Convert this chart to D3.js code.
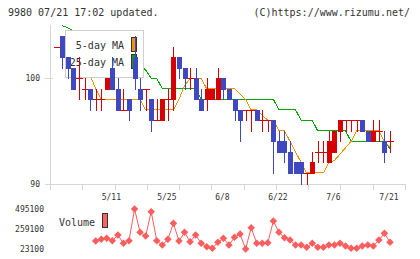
<!DOCTYPE html>
<html>
<head>
<meta charset="utf-8">
<script src="https://cdn.jsdelivr.net/npm/d3@7"></script>
<style>
body { margin: 0; background: #fff; }
svg { display: block; font-family: "DejaVu Sans Mono", monospace; }
</style>
</head>
<body>
<svg class="canvas"></svg>
<script>
// trading days 2015/4/21 - 7/21
const dates = [
	"4/21", "4/22", "4/23", "4/24", "4/27", "4/28", "4/30", "5/1", "5/7", "5/8",
	"5/11", "5/12", "5/13", "5/14", "5/15", "5/18", "5/19", "5/20", "5/21", "5/22",
	"5/25", "5/26", "5/27", "5/28", "5/29", "6/1", "6/2", "6/3", "6/4", "6/5",
	"6/8", "6/9", "6/10", "6/11", "6/12", "6/15", "6/16", "6/17", "6/18", "6/19",
	"6/22", "6/23", "6/24", "6/25", "6/26", "6/29", "6/30", "7/1", "7/2", "7/3",
	"7/6", "7/7", "7/8", "7/9", "7/10", "7/13", "7/14", "7/15", "7/16", "7/17",
	"7/21"
];

const open = [
	103, 104, 102, 101, 100, 99, 99, 98, 98, 99,
	101, 99, 97, 98, 102, 99, 99, 98, 96, 96,
	98, 98, 102, 101, 100, 100, 98, 98, 98, 98,
	100, 99, 98, 97, 97, 97, 97, 96, 96, 96,
	94, 94, 93, 92, 92, 91, 91, 93, 93, 92,
	93, 95, 96, 96, 96, 96, 95, 94, 95, 94,
	94
];
const high = [
	103, 104, 102, 101, 102, 100, 99, 99, 99, 100,
	102, 100, 99, 98, 104, 100, 99, 98, 98, 98,
	99, 103, 102, 101, 101, 101, 99, 100, 99, 101,
	100, 99, 98, 97, 97, 97, 97, 97, 96, 96,
	95, 95, 94, 92, 92, 91, 93, 94, 94, 95,
	95, 96, 96, 96, 96, 96, 95, 96, 96, 95,
	95
];
const low = [
	103, 101, 100, 99, 98, 98, 97, 97, 97, 99,
	99, 97, 97, 96, 99, 97, 97, 95, 96, 96,
	96, 97, 100, 99, 99, 98, 97, 97, 98, 98,
	98, 98, 96, 94, 96, 95, 96, 95, 95, 91,
	93, 92, 91, 91, 90, 90, 91, 92, 92, 92,
	93, 94, 95, 95, 95, 95, 94, 94, 94, 92,
	93
];
const close = [
	103, 102, 101, 99, 100, 99, 98, 98, 98, 100,
	99, 97, 97, 97, 100, 98, 99, 96, 96, 98,
	98, 102, 101, 100, 100, 98, 97, 99, 99, 100,
	99, 98, 97, 96, 97, 97, 96, 96, 96, 94,
	93, 93, 91, 91, 91, 91, 92, 93, 93, 94,
	95, 96, 96, 96, 96, 95, 94, 95, 95, 93,
	94
];

const ma5 = [
	null, null, null, null, 101.4, 100.8, 100.3, 99, 98, 98,
	98, 98, 98, 98, 98, 98, 97, 97, 97, 97,
	97, 97, 98, 99.3, 100, 100, 100, 99, 99, 99,
	99, 99, 99, 98.5, 98, 97, 97, 96.5, 96, 96,
	95, 95, 94, 93, 92, 91, 91, 91, 91, 92,
	92.2, 92.8, 93.4, 94, 95, 95, 95, 95, 95, 94,
	93.5
];
const ma25 = [
	null, 105, 104.8, 104.5, 104.2, 103.9, 103.6, 103.3, 103, 102.7,
	102.4, 102.1, 101.9, 101.7, 101.5, 101.2, 100.8, 100, 100, 99,
	99, 99, 99, 99, 99, 99, 98, 98, 98, 98,
	98, 98, 98, 98, 98, 98, 98, 98, 98, 98,
	97, 97, 97, 97, 96, 96, 96, 95, 95, 95,
	95, 95, 95, 94, 94, 94, 94, 94, 94, 94,
	93.3
];

const volume = [
	null, null, null, null, null, null, null, 117500, 137500, 149000,
	121000, 188300, 90000, 121000, 495100, 220000, 176500, 463000, 121000, 70300,
	137500, 326300, 117500, 220000, 109000, 188300, 90000, 50300, 31400, 102000,
	149000, 70300, 161000, 200100, 23100, 274500, 90000, 90000, 97500, 353500,
	220000, 156500, 129300, 70300, 70300, 43100, 90000, 43100, 43100, 70300,
	70300, 90000, 58500, 31400, 31400, 58500, 70300, 58500, 129300, 208400,
	102000
];

const tickDates = ["5/11", "5/25", "6/8", "6/22", "7/6", "7/21"];
const priceTicks = [90, 100];
const volumeTicks = [495100, 259100, 23100];

const width = 420;
const height = 259;

const red = "#d70000";
const blue = "#3f48c0";
const axisColor = "#d6d6d6";
const textColor = "#333";

let svg = d3.select('.canvas')
	.attr("width", width)
	.attr("height", height);

const x = d3.scaleLinear()
	.domain([0, dates.length - 1])
	.range([56.8, 390]);

const y = d3.scaleLinear()
	.domain([90, 100])
	.range([183.5, 78.3]);

const yVol = d3.scaleLinear()
	.domain([23100, 495100])
	.range([249, 209]);

const px = i => Math.round(x(i));

// header
svg.append("text")
	.attr("x", 8).attr("y", 16)
	.attr("font-size", 10).attr("fill", textColor)
	.text("9980 07/21 17:02 updated.");

svg.append("text")
	.attr("x", 410).attr("y", 16)
	.attr("text-anchor", "end")
	.attr("font-size", 10).attr("fill", textColor)
	.text("(C)https://www.rizumu.net/");

// axes
const axes = svg.append("g")
	.attr("stroke", axisColor)
	.attr("shape-rendering", "crispEdges");

axes.append("line")
	.attr("x1", 50.5).attr("x2", 50.5)
	.attr("y1", 25).attr("y2", 190);

axes.append("line")
	.attr("x1", 45).attr("x2", 405)
	.attr("y1", Math.round(y(90)) + 0.5).attr("y2", Math.round(y(90)) + 0.5);

axes.selectAll(".xtick")
	.data(d3.range(12))
	.join("line")
	.attr("class", "xtick")
	.attr("x1", k => Math.round(50 + k * 355 / 11) + 0.5)
	.attr("x2", k => Math.round(50 + k * 355 / 11) + 0.5)
	.attr("y1", Math.round(y(90)))
	.attr("y2", 190);

axes.selectAll(".ytick")
	.data(priceTicks)
	.join("line")
	.attr("class", "ytick")
	.attr("x1", 45).attr("x2", 53)
	.attr("y1", d => Math.round(y(d)) + 0.5)
	.attr("y2", d => Math.round(y(d)) + 0.5);

svg.selectAll(".ylabel")
	.data(priceTicks)
	.join("text")
	.attr("class", "ylabel")
	.attr("x", 40)
	.attr("y", d => y(d) + 3)
	.attr("text-anchor", "end")
	.attr("font-size", 8).attr("fill", textColor)
	.text(d => d);

svg.selectAll(".xlabel")
	.data(tickDates)
	.join("text")
	.attr("class", "xlabel")
	.attr("x", d => x(dates.indexOf(d)) - 1)
	.attr("y", 200)
	.attr("text-anchor", "middle")
	.attr("font-size", 8).attr("fill", textColor)
	.text(d => d);

// moving averages
const maLine = d3.line()
	.defined(d => d != null)
	.x((d, i) => x(i))
	.y(d => y(d));

svg.append("path")
	.datum(ma25)
	.attr("d", maLine)
	.attr("fill", "none")
	.attr("stroke", "#00a800")
	.attr("stroke-width", 1)
	.attr("shape-rendering", "crispEdges");

svg.append("path")
	.datum(ma5)
	.attr("d", maLine)
	.attr("fill", "none")
	.attr("stroke", "#f39200")
	.attr("stroke-width", 1)
	.attr("shape-rendering", "crispEdges");

// legend (white box sits over the MA lines, candles go on top)
const legend = svg.append("g").attr("shape-rendering", "crispEdges");

legend.append("rect")
	.attr("x", 65.5).attr("y", 30.5)
	.attr("width", 78).attr("height", 47)
	.attr("fill", "#fff")
	.attr("stroke", "#cfcfcf");

const legendItems = [
	{ label: "5-day MA", color: "#f39200" },
	{ label: "25-day MA", color: "#00a800" }
];

legend.selectAll(".litem")
	.data(legendItems)
	.join("text")
	.attr("class", "litem")
	.attr("x", 124)
	.attr("y", (d, i) => 49 + i * 17)
	.attr("text-anchor", "end")
	.attr("font-size", 10).attr("fill", textColor)
	.text(d => d.label);

legend.selectAll(".lswatch")
	.data(legendItems)
	.join("rect")
	.attr("class", "lswatch")
	.attr("x", 131.5)
	.attr("y", (d, i) => 37.5 + i * 17)
	.attr("width", 5).attr("height", 14)
	.attr("fill", d => d.color)
	.attr("stroke", "#333");

// candles
const candles = svg.append("g")
	.attr("shape-rendering", "crispEdges")
	.selectAll("g")
	.data(dates.map((d, i) => i))
	.join("g")
	.attr("fill", i => close[i] < open[i] ? blue : red)
	.attr("stroke", i => close[i] < open[i] ? blue : red);

candles.append("line")
	.attr("x1", i => px(i) + 0.5)
	.attr("x2", i => px(i) + 0.5)
	.attr("y1", i => Math.round(y(high[i])))
	.attr("y2", i => Math.round(y(low[i])) + 1);

candles.append("rect")
	.attr("stroke", "none")
	.attr("x", i => open[i] === close[i] ? px(i) - 3 : px(i) - 2)
	.attr("width", i => open[i] === close[i] ? 7 : 5)
	.attr("y", i => Math.round(y(Math.max(open[i], close[i]))))
	.attr("height", i => Math.max(1, Math.round(y(Math.min(open[i], close[i]))) - Math.round(y(Math.max(open[i], close[i]))) + 1));

// volume panel
svg.selectAll(".vlabel")
	.data(volumeTicks)
	.join("text")
	.attr("class", "vlabel")
	.attr("x", 44)
	.attr("y", d => yVol(d) + 3)
	.attr("text-anchor", "end")
	.attr("font-size", 8).attr("fill", textColor)
	.text(d => d);

svg.append("text")
	.attr("x", 59).attr("y", 226)
	.attr("font-size", 10).attr("fill", textColor)
	.text("Volume");

svg.append("rect")
	.attr("x", 102.5).attr("y", 213.5)
	.attr("width", 5).attr("height", 14)
	.attr("fill", "#ff6060")
	.attr("stroke", "#333")
	.attr("shape-rendering", "crispEdges");

const volLine = d3.line()
	.defined(d => d != null)
	.x((d, i) => x(i))
	.y(d => yVol(d));

svg.append("path")
	.datum(volume)
	.attr("d", volLine)
	.attr("fill", "none")
	.attr("stroke", "#ff5c5c")
	.attr("stroke-width", 1);

svg.selectAll(".vpoint")
	.data(volume.map((v, i) => ({ v, i })).filter(d => d.v != null))
	.join("path")
	.attr("class", "vpoint")
	.attr("d", d3.symbol(d3.symbolSquare, 28))
	.attr("transform", d => `translate(${x(d.i)},${yVol(d.v)}) rotate(45)`)
	.attr("fill", "#ff5c5c");
</script>
</body>
</html>
